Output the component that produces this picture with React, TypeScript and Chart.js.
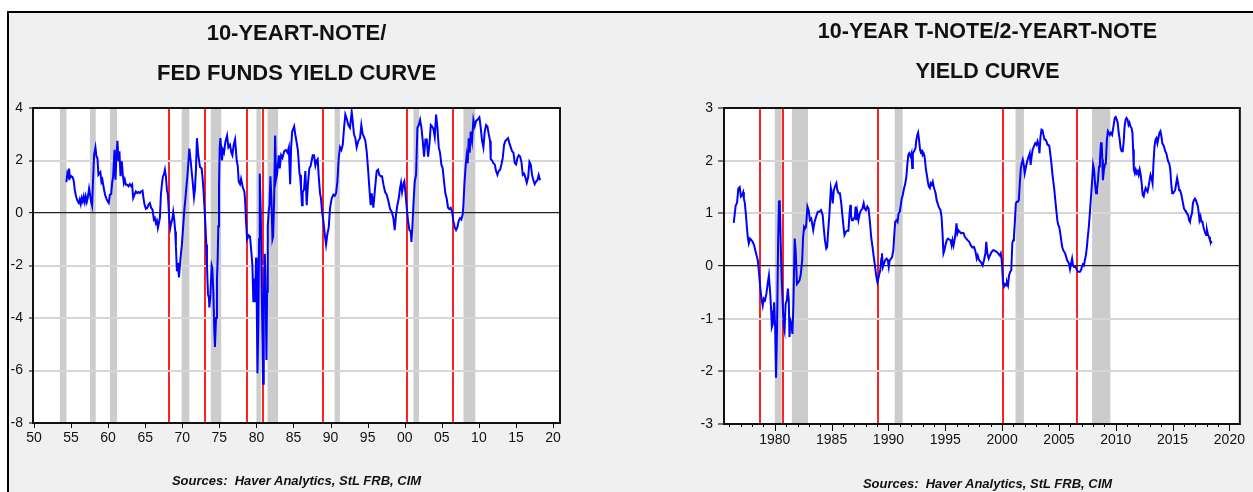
import React, { useEffect, useRef } from "react";
import { Chart, registerables } from "chart.js";

Chart.register(...registerables);

// ---------- DATA ----------
const leftTitle = ["10-YEART-NOTE/", "FED FUNDS YIELD CURVE"];
const rightTitle = ["10-YEAR T-NOTE/2-YEART-NOTE", "YIELD CURVE"];
const sourceText = "Sources:  Haver Analytics, StL FRB, CIM";

const leftYears = [
  1954.37, 1954.5, 1954.64, 1954.73, 1954.86, 1955.05, 1955.23, 1955.36, 1955.5, 1955.68, 1955.86,
  1956.04, 1956.17, 1956.31, 1956.44, 1956.58, 1956.71, 1956.85, 1956.98, 1957.12, 1957.25, 1957.43,
  1957.57, 1957.7, 1957.84, 1957.97, 1958.11, 1958.29, 1958.42, 1958.56, 1958.69, 1958.83, 1958.96,
  1959.1, 1959.23, 1959.41, 1959.59, 1959.77, 1959.95, 1960.09, 1960.23, 1960.41, 1960.54, 1960.68,
  1960.86, 1960.99, 1961.13, 1961.26, 1961.4, 1961.53, 1961.67, 1961.85, 1961.98, 1962.12, 1962.25,
  1962.39, 1962.57, 1962.75, 1962.93, 1963.11, 1963.24, 1963.38, 1963.56, 1963.74, 1963.92, 1964.1,
  1964.28, 1964.46, 1964.64, 1964.77, 1964.91, 1965.09, 1965.27, 1965.45, 1965.63, 1965.81, 1965.99,
  1966.17, 1966.31, 1966.44, 1966.58, 1966.71, 1966.85, 1966.98, 1967.12, 1967.25, 1967.39, 1967.52,
  1967.66, 1967.79, 1967.93, 1968.06, 1968.24, 1968.38, 1968.51, 1968.65, 1968.78, 1968.92, 1969.05,
  1969.14, 1969.28, 1969.41, 1969.55, 1969.77, 1969.95, 1970.09, 1970.27, 1970.41, 1970.59, 1970.72,
  1970.95, 1971.13, 1971.26, 1971.4, 1971.58, 1971.71, 1971.85, 1971.98, 1972.16, 1972.39, 1972.61,
  1972.75, 1972.88, 1973.11, 1973.24, 1973.33, 1973.47, 1973.6, 1973.65, 1973.78, 1973.96, 1974.05,
  1974.19, 1974.32, 1974.41, 1974.55, 1974.68, 1974.77, 1974.86, 1974.95, 1975.05, 1975.14, 1975.36,
  1975.5, 1975.63, 1975.81, 1976.04, 1976.22, 1976.44, 1976.62, 1976.76, 1976.94, 1977.12, 1977.34,
  1977.48, 1977.61, 1977.79, 1977.93, 1978.15, 1978.38, 1978.47, 1978.6, 1978.74, 1978.96, 1979.14,
  1979.32, 1979.46, 1979.59, 1979.73, 1979.82, 1979.95, 1980.05, 1980.14, 1980.27, 1980.36, 1980.45,
  1980.59, 1980.72, 1980.9, 1980.99, 1981.13, 1981.22, 1981.35, 1981.44, 1981.53, 1981.67, 1981.76,
  1981.89, 1982.03, 1982.16, 1982.25, 1982.39, 1982.52, 1982.66, 1982.79, 1983.02, 1983.15, 1983.33,
  1983.51, 1983.74, 1983.96, 1984.19, 1984.37, 1984.55, 1984.68, 1984.82, 1985.09, 1985.23, 1985.36,
  1985.59, 1985.81, 1985.88, 1986.01, 1986.15, 1986.24, 1986.42, 1986.6, 1986.78, 1986.96, 1987.14,
  1987.32, 1987.59, 1987.77, 1987.95, 1988.13, 1988.26, 1988.4, 1988.58, 1988.71, 1988.85, 1989.03,
  1989.21, 1989.39, 1989.57, 1989.75, 1989.93, 1990.15, 1990.38, 1990.56, 1990.74, 1990.92, 1991.1,
  1991.28, 1991.46, 1991.64, 1991.82, 1991.99, 1992.17, 1992.4, 1992.62, 1992.85, 1992.98, 1993.16,
  1993.34, 1993.52, 1993.75, 1993.97, 1994.15, 1994.33, 1994.51, 1994.69, 1994.87, 1995.05, 1995.23,
  1995.41, 1995.55, 1995.77, 1996.0, 1996.22, 1996.4, 1996.58, 1996.76, 1996.94, 1997.12, 1997.35,
  1997.57, 1997.8, 1998.02, 1998.25, 1998.47, 1998.65, 1998.83, 1999.01, 1999.19, 1999.37, 1999.5,
  1999.64, 1999.82, 1999.95, 2000.09, 2000.27, 2000.45, 2000.63, 2000.81, 2000.9, 2001.03, 2001.17,
  2001.35, 2001.53, 2001.71, 2001.89, 2002.07, 2002.25, 2002.43, 2002.61, 2002.79, 2002.97, 2003.15,
  2003.33, 2003.51, 2003.69, 2003.87, 2004.05, 2004.23, 2004.41, 2004.59, 2004.76, 2004.94, 2005.12,
  2005.3, 2005.48, 2005.66, 2005.84, 2006.02, 2006.2, 2006.38, 2006.56, 2006.74, 2006.92, 2007.1,
  2007.28, 2007.46, 2007.64, 2007.82, 2007.91, 2008.05, 2008.23, 2008.36, 2008.5, 2008.63, 2008.77,
  2008.9, 2009.08, 2009.26, 2009.44, 2009.62, 2009.8, 2010.07, 2010.25, 2010.43, 2010.61, 2010.79,
  2010.97, 2011.15, 2011.33, 2011.51, 2011.6, 2011.78, 2011.96, 2012.14, 2012.32, 2012.5, 2012.68,
  2012.86, 2013.04, 2013.22, 2013.4, 2013.58, 2013.76, 2013.94, 2014.12, 2014.3, 2014.48, 2014.66,
  2014.84, 2015.02, 2015.2, 2015.38, 2015.56, 2015.74, 2015.92, 2016.1, 2016.28, 2016.46, 2016.64,
  2016.82, 2017.0, 2017.17, 2017.35, 2017.53, 2017.71, 2017.89, 2018.07, 2018.25, 2018.34,
];
const leftValues = [
  1.18, 1.52, 1.4, 1.69, 1.33, 1.4, 1.36, 1.23, 0.89, 0.63, 0.47,
  0.38, 0.51, 0.34, 0.57, 0.44, 0.63, 0.42, 0.63, 0.42, 0.57, 0.93,
  0.7, 0.44, 0.28, 1.27, 2.22, 2.5, 2.16, 2.09, 1.46, 1.52, 1.56,
  1.18, 1.27, 0.95, 0.7, 0.55, 0.44, 0.38, 0.7, 0.72, 1.14, 1.4,
  2.41, 1.27, 2.22, 2.75, 1.97, 2.35, 1.4, 1.97, 1.46, 1.14, 1.27,
  1.08, 1.08, 1.02, 1.1, 1.02, 1.08, 0.57, 0.7, 0.82, 0.76, 0.8,
  0.76, 0.82, 0.85, 0.57, 0.32, 0.16, 0.19, 0.32, 0.38, 0.19, 0.13,
  -0.25, -0.19, -0.38, -0.29, -0.57, -0.38, -0.19, 0.7, 1.08, 1.4, 1.46,
  1.65, 1.4, 0.89, 0.7, -0.19, -0.57, -0.38, -0.25, 0.04, -0.25, -0.7,
  -1.27, -2.22, -1.9, -2.45, -1.7, -1.2, -0.65, 0.1, 0.5, 1.1, 1.5,
  2.45, 2.0, 1.6, 1.2, 0.6, 0.9, 1.7, 2.85, 2.2, 1.75, 1.7,
  1.3, 0.8, -0.4, -1.2, -2.0, -3.1, -3.25, -3.6, -3.2, -2.0, -2.1,
  -3.0, -4.5, -5.1, -4.0, -2.5, -1.8, -0.5, 1.0, 2.5, 2.85, 2.0,
  2.4, 2.3, 2.7, 2.95, 2.5, 2.6, 2.3, 2.2, 2.6, 2.8, 2.0,
  1.8, 1.2, 1.1, 1.3, 1.0, 0.8, 0.5, -0.3, -1.0, -0.85, -0.9,
  -1.5, -2.0, -3.4, -2.5, -3.4, -1.7, -3.5, -6.1, -4.0, -1.0, 1.5,
  0.0, -3.0, -6.5, -3.5, -1.55, -2.5, -5.6, -3.0, -0.5, 0.1, 0.3,
  1.4, 0.5, -1.0, -0.9, 0.5, 2.95, 1.3, 1.5, 2.2, 1.7, 2.2,
  2.1, 2.35, 2.4, 2.3, 2.5, 1.1, 2.5, 3.1, 3.3, 3.0, 2.8,
  2.4, 1.5, 1.45, 0.95, 0.3, 0.8, 0.9, 1.6, 0.3, 1.15, 1.7,
  1.8, 2.2, 2.2, 1.8, 2.0, 2.05, 1.4, 0.75, 0.55, 0.05, -0.3,
  -0.8, -1.2, -0.8, -0.55, 0.2, 0.55, 0.7, 0.65, 0.75, 1.2, 2.1,
  2.5, 2.4, 2.6, 3.25, 3.75, 3.6, 3.35, 3.25, 3.85, 3.5, 3.0,
  2.85, 2.5, 2.75, 2.85, 3.35, 3.0, 2.9, 2.75, 2.35, 1.7, 0.95,
  0.3, 0.75, 0.2, 0.95, 1.6, 1.65, 1.45, 1.4, 1.4, 1.1, 0.8,
  0.7, 0.45, 0.15, 0.05, -0.2, -0.65, -0.05, 0.3, 0.55, 0.95, 1.15,
  0.8, 1.1, 1.2, 0.8, 0.2, -0.3, -0.65, -0.7, -1.1, -0.55, 0.3,
  1.2, 1.45, 3.25, 3.35, 3.55, 3.25, 2.75, 2.15, 2.8, 2.8, 2.15,
  2.6, 3.35, 3.3, 3.2, 2.9, 3.75, 3.25, 2.5, 2.3, 1.85, 1.7,
  1.2, 0.75, 0.55, 0.2, 0.15, 0.2, 0.05, -0.3, -0.55, -0.65, -0.55,
  -0.3, -0.2, -0.25, -0.05, 0.3, 1.1, 1.85, 2.2, 1.9, 2.85, 2.3,
  3.1, 2.75, 3.55, 3.3, 3.5, 3.55, 3.65, 3.25, 2.75, 2.5, 3.1,
  3.35, 3.3, 3.0, 2.75, 2.05, 2.0, 1.9, 1.85, 1.6, 1.45, 1.6,
  1.65, 1.85, 2.1, 2.6, 2.75, 2.8, 2.85, 2.65, 2.5, 2.35, 2.3,
  1.9, 1.85, 2.1, 2.2, 2.15, 1.95, 1.45, 1.5, 1.35, 1.15, 1.35,
  1.95, 1.85, 1.45, 1.25, 1.1, 1.2, 1.25, 1.45, 1.25, 1.25,
];

const rightYears = [
  1976.39, 1976.48, 1976.56, 1976.68, 1976.79, 1976.91, 1977.02, 1977.13, 1977.22, 1977.28, 1977.36,
  1977.45, 1977.54, 1977.62, 1977.71, 1977.82, 1977.94, 1978.05, 1978.17, 1978.28, 1978.4, 1978.51,
  1978.62, 1978.74, 1978.85, 1978.94, 1979.03, 1979.14, 1979.26, 1979.37, 1979.48, 1979.6, 1979.68,
  1979.74, 1979.83, 1979.94, 1980.03, 1980.11, 1980.2, 1980.29, 1980.37, 1980.43, 1980.52, 1980.6,
  1980.72, 1980.8, 1980.86, 1980.95, 1981.06, 1981.15, 1981.23, 1981.29, 1981.38, 1981.46, 1981.55,
  1981.63, 1981.75, 1981.83, 1981.95, 1982.06, 1982.18, 1982.29, 1982.41, 1982.49, 1982.58, 1982.66,
  1982.75, 1982.87, 1982.98, 1983.09, 1983.21, 1983.3, 1983.38, 1983.5, 1983.64, 1983.78, 1983.93,
  1984.07, 1984.21, 1984.3, 1984.41, 1984.53, 1984.61, 1984.7, 1984.81, 1984.93, 1985.01, 1985.1,
  1985.19, 1985.3, 1985.42, 1985.5, 1985.62, 1985.73, 1985.85, 1985.93, 1986.05, 1986.13, 1986.25,
  1986.36, 1986.48, 1986.56, 1986.65, 1986.7, 1986.79, 1986.88, 1986.96, 1987.05, 1987.11, 1987.16,
  1987.25, 1987.36, 1987.48, 1987.59, 1987.71, 1987.82, 1987.91, 1988.02, 1988.14, 1988.25, 1988.37,
  1988.48, 1988.6, 1988.71, 1988.83, 1988.94, 1989.03, 1989.11, 1989.2, 1989.28, 1989.37, 1989.43,
  1989.51, 1989.6, 1989.71, 1989.83, 1989.94, 1990.03, 1990.11, 1990.23, 1990.32, 1990.43, 1990.52,
  1990.6, 1990.72, 1990.8, 1990.89, 1991.0, 1991.09, 1991.17, 1991.26, 1991.38, 1991.46, 1991.58,
  1991.66, 1991.75, 1991.83, 1991.95, 1992.03, 1992.09, 1992.15, 1992.26, 1992.38, 1992.46, 1992.55,
  1992.61, 1992.69, 1992.78, 1992.87, 1992.95, 1993.01, 1993.09, 1993.18, 1993.3, 1993.38, 1993.47,
  1993.55, 1993.64, 1993.72, 1993.81, 1993.9, 1993.98, 1994.07, 1994.15, 1994.24, 1994.33, 1994.41,
  1994.5, 1994.58, 1994.67, 1994.76, 1994.84, 1994.93, 1995.01, 1995.13, 1995.24, 1995.36, 1995.47,
  1995.56, 1995.64, 1995.73, 1995.82, 1995.9, 1995.99, 1996.07, 1996.16, 1996.28, 1996.39, 1996.5,
  1996.62, 1996.73, 1996.85, 1996.96, 1997.11, 1997.25, 1997.39, 1997.54, 1997.66, 1997.77, 1997.86,
  1997.98, 1998.12, 1998.29, 1998.41, 1998.53, 1998.61, 1998.7, 1998.82, 1998.93, 1999.08, 1999.22,
  1999.36, 1999.51, 1999.65, 1999.8, 1999.88, 1999.97, 2000.03, 2000.09, 2000.17, 2000.26, 2000.35,
  2000.43, 2000.52, 2000.61, 2000.72, 2000.81, 2000.9, 2000.98, 2001.04, 2001.13, 2001.21, 2001.3,
  2001.39, 2001.47, 2001.56, 2001.65, 2001.73, 2001.82, 2001.91, 2001.99, 2002.08, 2002.17, 2002.25,
  2002.34, 2002.43, 2002.51, 2002.6, 2002.69, 2002.8, 2002.92, 2003.03, 2003.12, 2003.21, 2003.29,
  2003.38, 2003.47, 2003.55, 2003.64, 2003.73, 2003.82, 2003.9, 2003.99, 2004.08, 2004.16, 2004.25,
  2004.34, 2004.42, 2004.51, 2004.6, 2004.68, 2004.77, 2004.86, 2004.94, 2005.03, 2005.12, 2005.2,
  2005.29, 2005.38, 2005.46, 2005.55, 2005.64, 2005.72, 2005.81, 2005.9, 2005.98, 2006.07, 2006.16,
  2006.24, 2006.33, 2006.42, 2006.5, 2006.59, 2006.68, 2006.76, 2006.85, 2006.94, 2007.02, 2007.11,
  2007.2, 2007.28, 2007.37, 2007.46, 2007.54, 2007.63, 2007.72, 2007.8, 2007.89, 2008.01, 2008.09,
  2008.18, 2008.27, 2008.35, 2008.44, 2008.53, 2008.61, 2008.7, 2008.76, 2008.82, 2008.87, 2008.96,
  2009.05, 2009.13, 2009.22, 2009.31, 2009.39, 2009.48, 2009.57, 2009.68, 2009.8, 2009.91, 2010.0,
  2010.09, 2010.17, 2010.26, 2010.35, 2010.43, 2010.52, 2010.61, 2010.69, 2010.78, 2010.87, 2010.95,
  2011.04, 2011.13, 2011.21, 2011.3, 2011.39, 2011.47, 2011.53, 2011.59, 2011.68, 2011.76, 2011.85,
  2011.94, 2012.02, 2012.11, 2012.2, 2012.28, 2012.37, 2012.46, 2012.54, 2012.63, 2012.72, 2012.8,
  2012.89, 2012.98, 2013.06, 2013.15, 2013.24, 2013.32, 2013.41, 2013.5, 2013.58, 2013.67, 2013.76,
  2013.84, 2013.93, 2014.02, 2014.1, 2014.19, 2014.28, 2014.36, 2014.45, 2014.54, 2014.62, 2014.71,
  2014.8, 2014.88, 2014.97, 2015.06, 2015.14, 2015.23, 2015.32, 2015.4, 2015.49, 2015.58, 2015.66,
  2015.75, 2015.84, 2015.92, 2016.01, 2016.1, 2016.18, 2016.27, 2016.36, 2016.45, 2016.53, 2016.62,
  2016.71, 2016.79, 2016.88, 2016.97, 2017.05, 2017.14, 2017.23, 2017.31, 2017.37, 2017.46, 2017.54,
  2017.63, 2017.72, 2017.8, 2017.89, 2017.95, 2018.03, 2018.12, 2018.21, 2018.29, 2018.38, 2018.44,
];
const rightValues = [
  0.82, 1.0, 1.15, 1.2, 1.47, 1.5, 1.32, 1.35, 1.4, 1.28, 1.2,
  1.0, 0.75, 0.55, 0.43, 0.52, 0.49, 0.46, 0.4, 0.3, 0.2, 0.1,
  -0.15, -0.46, -0.65, -0.75, -0.62, -0.65, -0.53, -0.34, -0.18, -0.53, -0.85,
  -1.16, -1.1, -0.69, -1.16, -2.12, -1.16, 0.43, 1.22, 1.25, 0.43, -0.21,
  -0.85, -1.16, -1.23, -0.72, -0.65, -0.43, -0.65, -1.35, -1.04, -1.1, -1.29,
  -0.78, 0.52, 0.3, -0.34, -0.31, -0.27, -0.15, 0.11, 0.55, 0.74, 0.71,
  0.74, 1.13, 1.06, 0.87, 0.9, 0.78, 0.68, 0.84, 0.94, 1.03, 1.03,
  1.06, 0.97, 0.74, 0.49, 0.33, 0.36, 0.68, 1.0, 1.48, 1.38, 1.19,
  1.44, 1.51, 1.57, 1.44, 1.38, 1.38, 1.19, 1.0, 0.74, 0.59, 0.65,
  0.67, 0.67, 0.94, 1.16, 0.97, 0.87, 0.87, 0.9, 0.94, 1.13, 0.87,
  1.03, 0.87, 1.0, 1.06, 1.09, 1.19, 1.09, 1.06, 1.13, 1.09, 0.84,
  0.55, 0.36, 0.17, -0.02, -0.21, -0.31, -0.24, -0.15, -0.08, 0.14, 0.24,
  -0.02, 0.04, 0.11, 0.14, 0.11, -0.02, 0.11, 0.14, 0.17, 0.3, 0.62,
  0.84, 0.87, 0.84, 1.0, 1.03, 1.16, 1.28, 1.35, 1.48, 1.54, 1.7,
  1.92, 2.11, 2.14, 2.08, 2.14, 1.86, 2.14, 2.18, 2.24, 2.4, 2.49,
  2.53, 2.4, 2.21, 2.14, 2.21, 2.11, 2.14, 2.08, 1.83, 1.73, 1.6,
  1.51, 1.48, 1.57, 1.54, 1.6, 1.51, 1.44, 1.38, 1.25, 1.19, 1.13,
  1.09, 1.06, 0.94, 0.62, 0.24, 0.3, 0.39, 0.49, 0.52, 0.5, 0.49,
  0.39, 0.49, 0.39, 0.49, 0.62, 0.81, 0.62, 0.68, 0.65, 0.62, 0.63,
  0.62, 0.55, 0.52, 0.49, 0.46, 0.39, 0.35, 0.36, 0.27, 0.14, 0.2,
  0.11, 0.08, 0.01, 0.11, 0.24, 0.46, 0.24, 0.14, 0.2, 0.27, 0.3,
  0.29, 0.27, 0.24, 0.2, 0.24, 0.11, -0.11, -0.34, -0.39, -0.34, -0.37,
  -0.31, -0.37, -0.18, -0.11, -0.08, 0.43, 0.49, 0.55, 0.87, 1.19, 1.22,
  1.22, 1.25, 1.57, 1.86, 1.95, 2.02, 1.92, 1.76, 1.86, 1.95, 2.02,
  2.08, 2.14, 1.92, 2.08, 2.21, 2.27, 2.33, 2.3, 2.37, 2.3, 2.14,
  2.46, 2.59, 2.58, 2.49, 2.4, 2.4, 2.37, 2.3, 2.3, 2.27, 2.11,
  1.95, 1.76, 1.6, 1.44, 1.25, 1.06, 0.87, 0.78, 0.74, 0.62, 0.49,
  0.36, 0.3, 0.27, 0.24, 0.17, 0.11, 0.08, 0.04, -0.06, 0.04, 0.14,
  0.01, -0.02, -0.01, -0.03, -0.08, -0.11, -0.11, -0.11, -0.08, -0.02, 0.03,
  0.01, 0.11, 0.2, 0.36, 0.55, 0.74, 1.0, 1.25, 1.51, 1.92, 1.83,
  1.57, 1.38, 1.44, 1.63, 1.89, 2.02, 2.33, 2.33, 2.02, 1.63, 1.83,
  1.92, 1.95, 2.4, 2.56, 2.53, 2.49, 2.53, 2.49, 2.65, 2.81, 2.83,
  2.78, 2.72, 2.53, 2.4, 2.24, 2.18, 2.18, 2.33, 2.65, 2.78, 2.81,
  2.78, 2.68, 2.72, 2.65, 2.62, 2.53, 2.21, 1.83, 1.76, 1.83, 1.76,
  1.8, 1.73, 1.83, 1.73, 1.57, 1.35, 1.32, 1.41, 1.48, 1.44, 1.41,
  1.51, 1.63, 1.73, 1.67, 1.57, 1.95, 2.27, 2.4, 2.43, 2.33, 2.43,
  2.53, 2.56, 2.46, 2.33, 2.3, 2.24, 2.18, 2.14, 2.05, 1.98, 1.95,
  1.83, 1.57, 1.38, 1.38, 1.41, 1.44, 1.57, 1.67, 1.57, 1.44, 1.44,
  1.38, 1.28, 1.19, 1.09, 1.06, 1.03, 1.0, 0.97, 0.87, 0.84, 0.94,
  1.0, 1.19, 1.25, 1.28, 1.25, 1.19, 1.13, 1.0, 0.87, 0.94, 0.84,
  0.84, 0.74, 0.68, 0.62, 0.59, 0.68, 0.59, 0.55, 0.49, 0.46, 0.43,
];

// recession periods (start, end) in decimal years
const recessionStarts = [1953.5, 1957.55, 1960.25, 1969.92, 1973.85, 1980.0, 1981.5, 1990.55, 2001.18, 2007.92];
const recessionEnds = [1954.38, 1958.33, 1961.2, 1970.95, 1975.25, 1980.6, 1981.5 + 1.42, 1991.25, 2001.92, 2009.52];

// red inversion markers
const leftSignals = [1968.27, 1973.12, 1978.68, 1980.89, 1989.04, 2000.3, 2006.55];
const rightSignals = [1978.7, 1980.72, 1989.05, 2000.05, 2006.55];

// axis ticks
const leftXTicks = [1950, 1955, 1960, 1965, 1970, 1975, 1980, 1985, 1990, 1995, 2000, 2005, 2010, 2015, 2020];
const leftXLabels = ["50", "55", "60", "65", "70", "75", "80", "85", "90", "95", "00", "05", "10", "15", "20"];
const rightXMajor = [1980, 1985, 1990, 1995, 2000, 2005, 2010, 2015, 2020];
const rightXLabels = ["1980", "1985", "1990", "1995", "2000", "2005", "2010", "2015", "2020"];
const rightXMinor = [
  1976, 1977, 1978, 1979, 1981, 1982, 1983, 1984, 1986, 1987, 1988, 1989, 1991, 1992, 1993, 1994,
  1996, 1997, 1998, 1999, 2001, 2002, 2003, 2004, 2006, 2007, 2008, 2009, 2011, 2012, 2013, 2014,
  2016, 2017, 2018, 2019,
];

// ---------- STYLE ----------
const FONT = "'Liberation Sans', Arial, Helvetica, sans-serif";

type Cfg = {
  years: number[];
  values: number[];
  signals: number[];
  xMin: number;
  xMax: number;
  yMin: number;
  yMax: number;
  yStep: number;
  yTickLen: number;
  yPadding: number;
  xMajor: number[];
  xLabels: string[];
  xMinor: number[];
  majorLen: number;
  minorLen: number;
  xPadding: number;
  padding: { left: number; right: number; top: number; bottom: number };
  width: number;
};

function makeDecor(cfg: Cfg) {
  return {
    id: "decor",
    beforeDraw(chart: any) {
      const { ctx, chartArea: a } = chart;
      const x = chart.scales.x;
      ctx.save();
      ctx.fillStyle = "#ffffff";
      ctx.fillRect(a.left, a.top, a.right - a.left, a.bottom - a.top);
      ctx.beginPath();
      ctx.rect(a.left, a.top, a.right - a.left, a.bottom - a.top);
      ctx.clip();
      ctx.fillStyle = "#cccccc";
      for (let i = 0; i < recessionStarts.length; i++) {
        const x1 = x.getPixelForValue(recessionStarts[i]);
        const x2 = x.getPixelForValue(recessionEnds[i]);
        ctx.fillRect(x1, a.top, x2 - x1, a.bottom - a.top);
      }
      ctx.strokeStyle = "#ff2222";
      ctx.lineWidth = 2;
      for (const v of cfg.signals) {
        const px = Math.round(x.getPixelForValue(v));
        ctx.beginPath();
        ctx.moveTo(px, a.top);
        ctx.lineTo(px, a.bottom);
        ctx.stroke();
      }
      ctx.restore();
    },
    afterDraw(chart: any) {
      const { ctx, chartArea: a } = chart;
      const x = chart.scales.x;
      ctx.save();
      ctx.strokeStyle = "#000";
      ctx.lineWidth = 1;
      for (const v of cfg.xMajor) {
        const px = Math.round(x.getPixelForValue(v)) + 0.5;
        ctx.beginPath();
        ctx.moveTo(px, a.bottom);
        ctx.lineTo(px, a.bottom + cfg.majorLen);
        ctx.stroke();
      }
      for (const v of cfg.xMinor) {
        const px = Math.round(x.getPixelForValue(v)) + 0.5;
        ctx.beginPath();
        ctx.moveTo(px, a.bottom);
        ctx.lineTo(px, a.bottom + cfg.minorLen);
        ctx.stroke();
      }
      ctx.lineWidth = 2;
      ctx.strokeStyle = "#111";
      ctx.strokeRect(a.left, a.top, a.right - a.left, a.bottom - a.top);
      ctx.restore();
    },
  };
}

function YieldChart({ cfg }: { cfg: Cfg }) {
  const ref = useRef<HTMLCanvasElement | null>(null);
  useEffect(() => {
    if (!ref.current) return;
    const points = cfg.years.map((yr, i) => ({ x: yr, y: cfg.values[i] }));
    const chart = new Chart(ref.current, {
      type: "line",
      data: {
        datasets: [
          {
            data: points,
            borderColor: "#0000ff",
            borderWidth: 2,
            pointRadius: 0,
            tension: 0,
            fill: false,
          },
        ],
      },
      options: {
        responsive: false,
        animation: false,
        devicePixelRatio: 1,
        layout: { padding: cfg.padding },
        plugins: { legend: { display: false }, tooltip: { enabled: false } },
        scales: {
          x: {
            type: "linear",
            min: cfg.xMin,
            max: cfg.xMax,
            grid: { display: false, drawTicks: false },
            border: { display: false },
            afterBuildTicks: (scale: any) => {
              scale.ticks = cfg.xMajor.map((v) => ({ value: v }));
            },
            afterFit: (scale: any) => {
              scale.height = 30;
            },
            ticks: {
              autoSkip: false,
              maxRotation: 0,
              padding: cfg.xPadding,
              color: "#111",
              font: { family: FONT, size: 14 },
              callback: (v: any) => {
                const idx = cfg.xMajor.indexOf(Number(v));
                return idx >= 0 ? cfg.xLabels[idx] : "";
              },
            },
          },
          y: {
            min: cfg.yMin,
            max: cfg.yMax,
            afterFit: (scale: any) => {
              scale.width = 33;
            },
            border: { display: false },
            grid: {
              color: (c: any) => (c.tick && c.tick.value === 0 ? "#222" : "#d6d6d6"),
              lineWidth: (c: any) => (c.tick && c.tick.value === 0 ? 1.3 : 2),
              drawTicks: true,
              tickLength: cfg.yTickLen,
              tickColor: "#000",
              tickWidth: 1,
            },
            ticks: {
              stepSize: cfg.yStep,
              padding: cfg.yPadding,
              color: "#111",
              font: { family: FONT, size: 14 },
            },
          },
        },
      },
      plugins: [makeDecor(cfg)],
    } as any);
    return () => chart.destroy();
  }, [cfg]);
  return (
    <canvas
      ref={ref}
      width={cfg.width}
      height={492}
      style={{ width: cfg.width, height: 492, display: "block" }}
    />
  );
}

const leftCfg: Cfg = {
  years: leftYears,
  values: leftValues,
  signals: leftSignals,
  xMin: 1949.87,
  xMax: 2020.94,
  yMin: -8,
  yMax: 4,
  yStep: 2,
  yTickLen: 4,
  yPadding: 6,
  xMajor: leftXTicks,
  xLabels: leftXLabels,
  xMinor: [],
  majorLen: 5,
  minorLen: 0,
  xPadding: 7,
  padding: { left: 0, right: 40, top: 108, bottom: 39 },
  width: 600,
};

const rightCfg: Cfg = {
  years: rightYears,
  values: rightValues,
  signals: rightSignals,
  xMin: 1975.53,
  xMax: 2020.92,
  yMin: -3,
  yMax: 3,
  yStep: 1,
  yTickLen: 6,
  yPadding: 5,
  xMajor: rightXMajor,
  xLabels: rightXLabels,
  xMinor: rightXMinor,
  majorLen: 7,
  minorLen: 3,
  xPadding: 8,
  padding: { left: 71, right: 2, top: 108, bottom: 38 },
  width: 633,
};

const titleStyle = (left: number, top: number, size: number): React.CSSProperties => ({
  position: "absolute",
  left,
  top,
  width: 527,
  textAlign: "center",
  fontFamily: FONT,
  fontWeight: "bold",
  fontSize: size,
  lineHeight: "40px",
  color: "#111",
  whiteSpace: "nowrap",
});

const sourceStyle = (left: number, top: number): React.CSSProperties => ({
  position: "absolute",
  left,
  top,
  width: 527,
  textAlign: "center",
  fontFamily: FONT,
  fontWeight: "bold",
  fontStyle: "italic",
  fontSize: 13,
  lineHeight: "16px",
  color: "#111",
  whiteSpace: "pre",
});

export default function App() {
  return (
    <div
      style={{
        position: "absolute",
        left: 0,
        top: 0,
        width: 1253,
        height: 492,
        background: "#ffffff",
        overflow: "hidden",
      }}
    >
      <div
        style={{
          position: "absolute",
          left: 7,
          top: 11,
          width: 1260,
          height: 500,
          background: "#f0f0f0",
          borderLeft: "2px solid #000",
          borderTop: "2px solid #000",
        }}
      />
      <div style={{ position: "absolute", left: 0, top: 0 }}>
        <YieldChart cfg={leftCfg} />
      </div>
      <div style={{ position: "absolute", left: 620, top: 0 }}>
        <YieldChart cfg={rightCfg} />
      </div>
      <div style={titleStyle(33, 13, 22)}>
        <div>{leftTitle[0]}</div>
        <div>{leftTitle[1]}</div>
      </div>
      <div style={titleStyle(724, 11, 21.5)}>
        <div>{rightTitle[0]}</div>
        <div>{rightTitle[1]}</div>
      </div>
      <div style={sourceStyle(33, 473)}>{sourceText}</div>
      <div style={sourceStyle(724, 476)}>{sourceText}</div>
    </div>
  );
}
